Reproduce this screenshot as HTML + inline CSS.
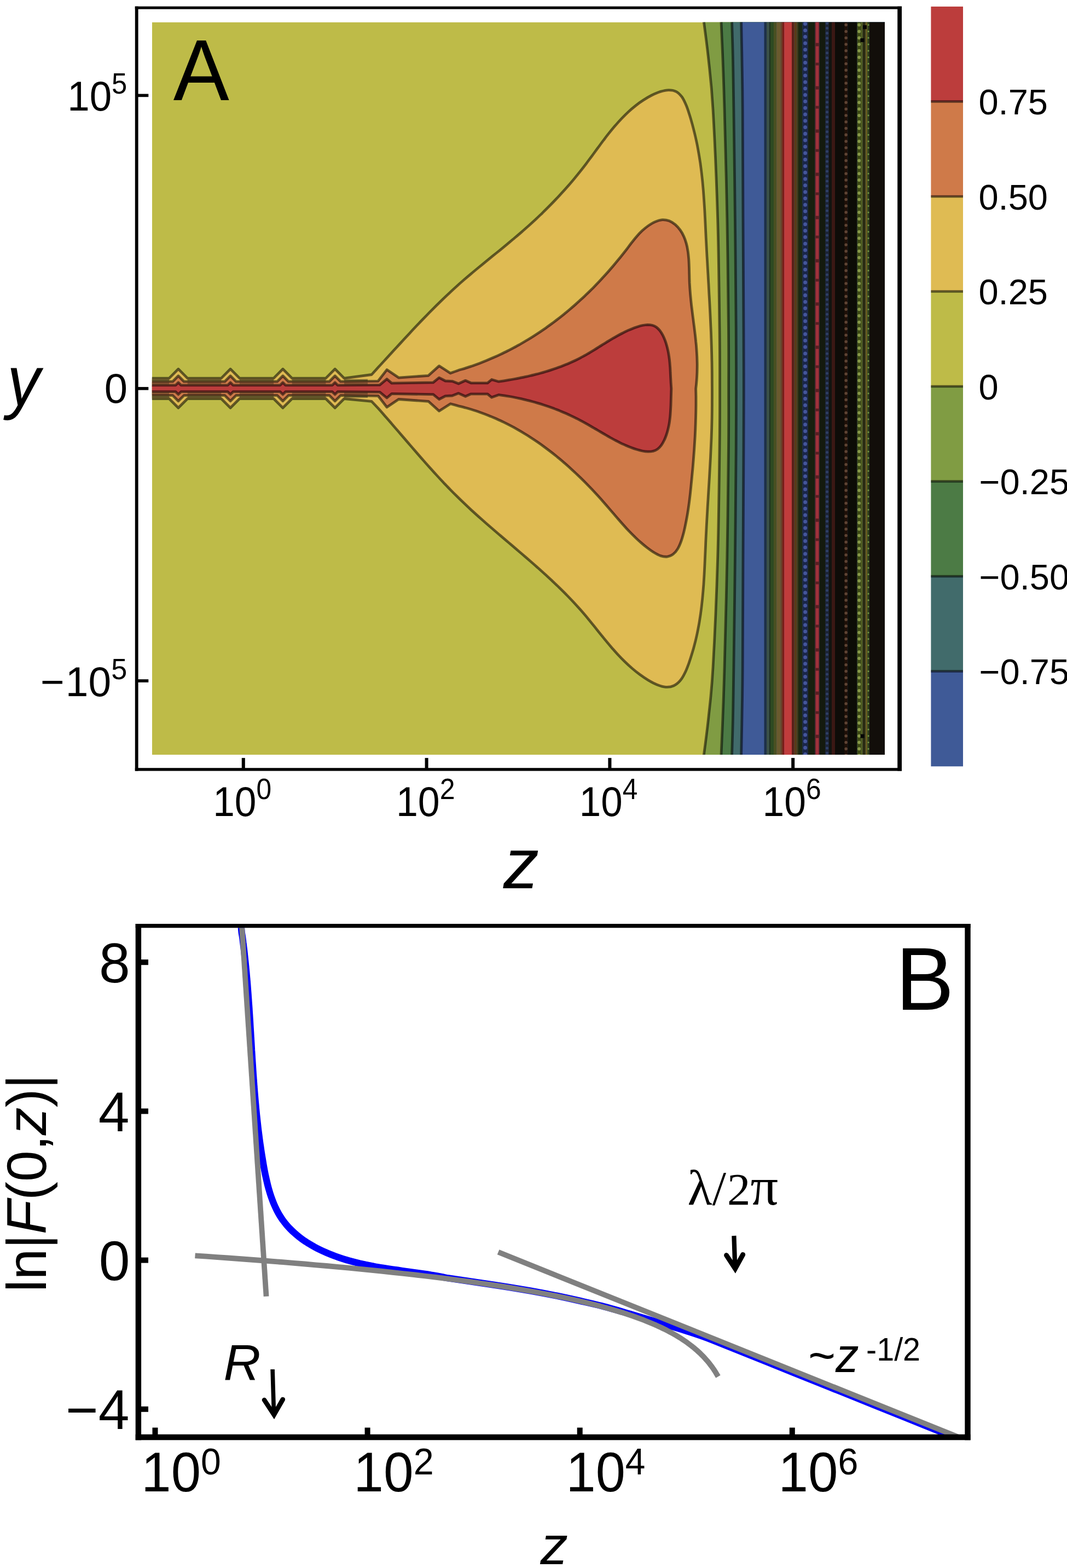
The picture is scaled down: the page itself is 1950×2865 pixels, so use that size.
<!DOCTYPE html><html><head><meta charset="utf-8"><style>html,body{margin:0;padding:0;background:#fff;}svg{display:block;} .s{font-family:'Liberation Sans', Arial, sans-serif;fill:#000;}</style></head><body>
<svg xmlns="http://www.w3.org/2000/svg" width="1950" height="2865" viewBox="0 0 1950 2865">
<rect width="1950" height="2865" fill="#fff"/>
<clipPath id="clipA"><rect x="277.8" y="40.6" width="1339.2" height="1338.4"/></clipPath>
<g clip-path="url(#clipA)">
<rect x="277.8" y="40.6" width="1339.2" height="1338.4" fill="#BEBB48"/>
<path d="M1285.0,34.6 C1285.2,35.6 1284.7,28.1 1286.4,40.6 C1288.1,53.1 1292.2,83.3 1295.0,109.8 C1297.8,136.3 1300.2,151.5 1303.0,199.8 C1305.8,248.1 1309.6,333.1 1311.6,399.8 C1313.6,466.5 1314.3,548.1 1315.0,599.8 C1315.7,651.5 1315.5,673.1 1315.5,709.8 C1315.5,746.5 1315.7,768.1 1315.0,819.8 C1314.3,871.5 1313.6,953.1 1311.6,1019.8 C1309.6,1086.5 1305.8,1171.5 1303.0,1219.8 C1300.2,1268.1 1297.8,1283.3 1295.0,1309.8 C1292.2,1336.3 1288.1,1366.5 1286.4,1379.0 C1284.7,1391.5 1285.2,1384.0 1285.0,1385.0 L1622.0,1385.0 L1622.0,34.6 Z" fill="#809C43"/>
<path d="M1317.5,34.6 C1317.6,35.6 1317.4,28.1 1318.0,40.6 C1318.6,53.1 1320.0,83.3 1321.0,109.8 C1322.0,136.3 1322.7,151.5 1324.0,199.8 C1325.3,248.1 1327.6,333.1 1328.8,399.8 C1330.0,466.5 1330.9,548.1 1331.4,599.8 C1331.9,651.5 1331.6,673.1 1331.6,709.8 C1331.6,746.5 1331.9,768.1 1331.4,819.8 C1330.9,871.5 1330.0,953.1 1328.8,1019.8 C1327.6,1086.5 1325.3,1171.5 1324.0,1219.8 C1322.7,1268.1 1322.0,1283.3 1321.0,1309.8 C1320.0,1336.3 1318.6,1366.5 1318.0,1379.0 C1317.4,1391.5 1317.6,1384.0 1317.5,1385.0 L1622.0,1385.0 L1622.0,34.6 Z" fill="#4C7B45"/>
<path d="M1337.4,34.6 C1337.4,35.6 1337.2,28.1 1337.6,40.6 C1337.9,53.1 1339.0,83.3 1339.5,109.8 C1340.0,136.3 1340.2,151.5 1340.9,199.8 C1341.6,248.1 1342.7,333.1 1343.4,399.8 C1344.1,466.5 1344.9,548.1 1345.2,599.8 C1345.5,651.5 1345.5,673.1 1345.5,709.8 C1345.5,746.5 1345.5,768.1 1345.2,819.8 C1344.9,871.5 1344.1,953.1 1343.4,1019.8 C1342.7,1086.5 1341.6,1171.5 1340.9,1219.8 C1340.2,1268.1 1340.0,1283.3 1339.5,1309.8 C1339.0,1336.3 1337.9,1366.5 1337.6,1379.0 C1337.2,1391.5 1337.4,1384.0 1337.4,1385.0 L1622.0,1385.0 L1622.0,34.6 Z" fill="#416B6B"/>
<path d="M1354.6,34.6 C1354.6,35.6 1354.5,28.1 1354.7,40.6 C1354.9,53.1 1355.6,83.3 1356.0,109.8 C1356.4,136.3 1356.9,151.5 1357.2,199.8 C1357.5,248.1 1357.7,333.1 1358.0,399.8 C1358.3,466.5 1358.8,548.1 1359.0,599.8 C1359.2,651.5 1359.3,673.1 1359.3,709.8 C1359.3,746.5 1359.2,768.1 1359.0,819.8 C1358.8,871.5 1358.3,953.1 1358.0,1019.8 C1357.7,1086.5 1357.5,1171.5 1357.2,1219.8 C1356.9,1268.1 1356.4,1283.3 1356.0,1309.8 C1355.6,1336.3 1354.9,1366.5 1354.7,1379.0 C1354.5,1391.5 1354.6,1384.0 1354.6,1385.0 L1622.0,1385.0 L1622.0,34.6 Z" fill="#3F5A97"/>
<rect x="1396.5" y="38.6" width="4.5" height="1342.4" fill="#1D3049"/>
<rect x="1401.0" y="38.6" width="5.0" height="1342.4" fill="#3A5048"/>
<rect x="1406.0" y="38.6" width="2.0" height="1342.4" fill="#1E3020"/>
<rect x="1408.0" y="38.6" width="6.0" height="1342.4" fill="#2E4A22"/>
<rect x="1414.0" y="38.6" width="5.2" height="1342.4" fill="#4A5022"/>
<rect x="1419.2" y="38.6" width="7.6" height="1342.4" fill="#6A5A2E"/>
<rect x="1426.8" y="38.6" width="3.2" height="1342.4" fill="#6A4028"/>
<rect x="1430.0" y="38.6" width="3.2" height="1342.4" fill="#7A1C18"/>
<rect x="1433.2" y="38.6" width="13.8" height="1342.4" fill="#C03C3C"/>
<rect x="1447.0" y="38.6" width="4.4" height="1342.4" fill="#5A2018"/>
<rect x="1451.4" y="38.6" width="5.1" height="1342.4" fill="#5A3A18"/>
<rect x="1456.5" y="38.6" width="2.5" height="1342.4" fill="#3A3A14"/>
<rect x="1459.0" y="38.6" width="7.6" height="1342.4" fill="#1C2814"/>
<rect x="1466.6" y="38.6" width="10.1" height="1342.4" fill="#1A2648"/>
<rect x="1476.7" y="38.6" width="12.8" height="1342.4" fill="#18200F"/>
<rect x="1489.5" y="38.6" width="8.1" height="1342.4" fill="#5A1E22"/>
<rect x="1497.6" y="38.6" width="10.4" height="1342.4" fill="#141A0E"/>
<rect x="1508.0" y="38.6" width="7.0" height="1342.4" fill="#1C2436"/>
<rect x="1515.0" y="38.6" width="5.0" height="1342.4" fill="#121410"/>
<rect x="1520.0" y="38.6" width="6.0" height="1342.4" fill="#3A1814"/>
<rect x="1526.0" y="38.6" width="17.0" height="1342.4" fill="#0E0C08"/>
<rect x="1543.0" y="38.6" width="6.2" height="1342.4" fill="#1E1008"/>
<rect x="1549.2" y="38.6" width="17.3" height="1342.4" fill="#0C0C06"/>
<rect x="1566.5" y="38.6" width="7.3" height="1342.4" fill="#3C4A14"/>
<rect x="1573.8" y="38.6" width="2.8" height="1342.4" fill="#55621E"/>
<rect x="1576.6" y="38.6" width="5.1" height="1342.4" fill="#2A2A10"/>
<rect x="1581.7" y="38.6" width="3.7" height="1342.4" fill="#665C1E"/>
<rect x="1585.4" y="38.6" width="3.4" height="1342.4" fill="#2E3E12"/>
<rect x="1588.8" y="38.6" width="30.2" height="1342.4" fill="#120E0A"/>
<line x1="1471.6" y1="43.6" x2="1471.6" y2="1386.0" stroke="#44559A" stroke-width="7.0" stroke-linecap="round" stroke-dasharray="0.01 11.8"/>
<line x1="1493.5" y1="40.6" x2="1493.5" y2="1379.0" stroke="#A0323C" stroke-width="5.5" stroke-dasharray="38 6 30 5"/>
<line x1="1511.5" y1="42.6" x2="1511.5" y2="1384.0" stroke="#2E3E66" stroke-width="5.0" stroke-linecap="round" stroke-dasharray="0.01 9.0"/>
<line x1="1546.1" y1="45.6" x2="1546.1" y2="1384.5" stroke="#5E4434" stroke-width="5.5" stroke-linecap="round" stroke-dasharray="0.01 11.8"/>
<line x1="1570.1" y1="45.6" x2="1570.1" y2="1385.0" stroke="#869848" stroke-width="6.0" stroke-linecap="round" stroke-dasharray="0.01 11.8"/>
<line x1="1587.1" y1="45.6" x2="1587.1" y2="1382.2" stroke="#6E903E" stroke-width="3.2" stroke-linecap="round" stroke-dasharray="0.01 11.8"/>
<rect x="1577.0" y="46.1" width="7" height="7" fill="#050505"/>
<rect x="1572.4" y="69.9" width="7" height="7" fill="#050505"/>
<rect x="1572.5" y="1341.5" width="7" height="7" fill="#050505"/>
<path d="M271.8,691.1 L309.1,691.1 L325.9,674.3 L342.7,691.1 L404.3,691.1 L421.1,674.3 L437.9,691.1 L500.1,691.1 L516.9,674.3 L533.7,691.1 L595.4,691.1 L612.2,674.3 L629.0,691.1 L679.2,684.5 C681.1,682.4 686.9,676.0 690.8,671.7 C694.7,667.5 698.6,663.3 702.5,659.0 C706.4,654.8 710.2,650.6 714.1,646.3 C718.0,642.1 721.9,637.8 725.8,633.6 C729.7,629.4 733.6,625.1 737.5,620.9 C741.4,616.7 745.3,612.5 749.2,608.3 C753.1,604.1 757.0,599.9 761.0,595.7 C764.9,591.6 768.9,587.4 772.9,583.3 C776.9,579.2 780.9,575.0 784.9,570.9 C788.9,566.9 792.9,562.8 797.0,558.7 C801.1,554.7 805.2,550.7 809.3,546.7 C813.4,542.7 817.6,538.8 821.8,534.9 C826.0,530.9 830.2,527.1 834.5,523.2 C838.7,519.4 843.0,515.6 847.4,511.8 C851.7,508.0 856.1,504.3 860.5,500.6 C864.9,496.9 869.3,493.2 873.8,489.5 C878.2,485.9 882.7,482.2 887.1,478.6 C891.6,474.9 896.1,471.3 900.5,467.7 C905.0,464.1 909.5,460.4 914.0,456.8 C918.4,453.2 922.9,449.5 927.3,445.9 C931.7,442.2 936.2,438.5 940.5,434.8 C944.9,431.1 949.3,427.4 953.6,423.6 C957.9,419.9 962.2,416.1 966.5,412.3 C970.7,408.4 974.9,404.6 979.1,400.7 C983.3,396.8 987.4,392.8 991.5,388.9 C995.6,384.9 999.7,380.9 1003.7,376.8 C1007.7,372.8 1011.7,368.7 1015.6,364.5 C1019.6,360.4 1023.5,356.2 1027.3,351.9 C1031.2,347.7 1035.0,343.4 1038.8,339.1 C1042.6,334.7 1046.3,330.4 1050.0,325.9 C1053.7,321.5 1057.3,317.0 1060.9,312.5 C1064.5,307.9 1068.1,303.3 1071.6,298.7 C1075.1,294.1 1078.5,289.3 1082.0,284.7 C1085.5,280.0 1088.9,275.2 1092.4,270.5 C1095.9,265.8 1099.3,261.1 1102.9,256.4 C1106.4,251.8 1109.9,247.1 1113.6,242.6 C1117.2,238.1 1120.9,233.5 1124.7,229.2 C1128.4,224.8 1132.3,220.5 1136.3,216.3 C1140.3,212.2 1144.4,208.1 1148.6,204.2 C1152.8,200.3 1157.2,196.6 1161.8,193.0 C1166.3,189.4 1171.0,186.0 1175.9,182.9 C1180.8,179.7 1186.0,176.6 1191.1,174.0 C1196.3,171.5 1201.8,169.0 1207.0,167.4 C1212.2,165.8 1217.5,164.6 1222.2,164.6 C1227.0,164.6 1231.7,165.3 1235.7,167.3 C1239.7,169.4 1243.1,172.9 1246.2,177.0 C1249.2,181.2 1251.7,186.8 1254.0,192.3 C1256.4,197.8 1258.3,204.1 1260.2,210.0 C1262.1,215.9 1263.8,221.9 1265.4,227.8 C1267.0,233.8 1268.5,239.7 1269.9,245.5 C1271.3,251.4 1272.6,257.2 1273.8,263.0 C1275.0,268.9 1276.0,274.6 1277.0,280.4 C1278.0,286.2 1278.9,291.9 1279.8,297.7 C1280.6,303.4 1281.3,309.1 1282.0,314.8 C1282.7,320.5 1283.3,326.2 1283.9,331.9 C1284.4,337.6 1284.9,343.3 1285.4,348.9 C1285.8,354.6 1286.2,360.3 1286.6,365.9 C1287.0,371.6 1287.3,377.2 1287.7,382.9 C1288.0,388.5 1288.3,394.2 1288.6,399.9 C1288.9,405.5 1289.1,411.2 1289.4,416.9 C1289.7,422.5 1289.9,428.2 1290.2,433.9 C1290.5,439.6 1290.8,445.3 1291.1,451.0 C1291.4,456.7 1291.7,462.5 1292.0,468.2 C1292.4,473.9 1292.7,479.7 1293.0,485.4 C1293.3,491.2 1293.7,496.9 1294.0,502.7 C1294.3,508.5 1294.6,514.2 1295.0,520.0 C1295.3,525.8 1295.6,531.5 1295.9,537.3 C1296.3,543.1 1296.6,548.9 1296.9,554.7 C1297.2,560.4 1297.5,566.2 1297.8,572.0 C1298.1,577.8 1298.3,583.6 1298.6,589.3 C1298.9,595.1 1299.1,600.9 1299.4,606.7 C1299.6,612.4 1299.8,618.2 1300.0,624.0 C1300.2,629.7 1300.4,635.5 1300.5,641.2 C1300.7,647.0 1300.8,652.7 1300.9,658.5 C1301.1,664.2 1301.1,669.9 1301.2,675.6 C1301.3,681.3 1301.3,687.0 1301.3,692.7 C1301.3,698.5 1301.4,707.0 1301.4,709.9 L1301.4,709.9 C1301.4,712.9 1301.4,721.9 1301.4,727.8 C1301.3,733.8 1301.4,739.8 1301.3,745.8 C1301.3,751.7 1301.2,757.7 1301.1,763.7 C1301.0,769.7 1300.8,775.7 1300.7,781.6 C1300.5,787.6 1300.3,793.6 1300.1,799.6 C1299.8,805.6 1299.6,811.6 1299.3,817.5 C1299.0,823.5 1298.8,829.5 1298.5,835.5 C1298.2,841.5 1297.8,847.4 1297.5,853.4 C1297.2,859.4 1296.8,865.4 1296.5,871.3 C1296.1,877.3 1295.8,883.3 1295.4,889.3 C1295.0,895.2 1294.7,901.2 1294.3,907.2 C1294.0,913.2 1293.6,919.1 1293.2,925.1 C1292.9,931.1 1292.5,937.0 1292.2,943.0 C1291.9,949.0 1291.5,954.9 1291.2,960.9 C1290.9,966.8 1290.6,972.8 1290.3,978.8 C1290.0,984.7 1289.7,990.7 1289.5,996.6 C1289.2,1002.6 1289.0,1008.5 1288.7,1014.5 C1288.4,1020.4 1288.2,1026.4 1287.9,1032.3 C1287.6,1038.3 1287.3,1044.2 1287.0,1050.2 C1286.6,1056.1 1286.3,1062.1 1285.9,1068.0 C1285.4,1074.0 1285.0,1079.9 1284.4,1085.9 C1283.9,1091.8 1283.3,1097.8 1282.6,1103.7 C1282.0,1109.7 1281.2,1115.6 1280.4,1121.6 C1279.5,1127.6 1278.6,1133.5 1277.6,1139.5 C1276.5,1145.5 1275.4,1151.4 1274.1,1157.4 C1272.8,1163.4 1271.5,1169.4 1269.9,1175.4 C1268.4,1181.3 1266.8,1187.3 1264.9,1193.3 C1263.1,1199.3 1261.2,1205.4 1259.1,1211.4 C1256.9,1217.3 1254.7,1223.5 1252.0,1228.9 C1249.4,1234.3 1246.5,1239.7 1243.0,1243.7 C1239.5,1247.8 1235.5,1251.1 1231.1,1253.0 C1226.7,1255.0 1221.7,1255.7 1216.6,1255.3 C1211.5,1255.0 1205.9,1253.1 1200.6,1251.0 C1195.2,1248.9 1189.6,1245.7 1184.4,1242.6 C1179.1,1239.4 1174.0,1235.9 1169.1,1232.3 C1164.2,1228.7 1159.5,1224.9 1155.0,1221.0 C1150.4,1217.1 1146.0,1213.0 1141.7,1208.8 C1137.4,1204.6 1133.2,1200.3 1129.1,1195.9 C1125.0,1191.5 1121.1,1186.9 1117.1,1182.4 C1113.2,1177.8 1109.3,1173.1 1105.5,1168.5 C1101.7,1163.8 1097.9,1159.1 1094.1,1154.4 C1090.3,1149.7 1086.6,1145.0 1082.7,1140.3 C1078.9,1135.6 1075.1,1130.9 1071.3,1126.3 C1067.4,1121.7 1063.5,1117.1 1059.5,1112.7 C1055.5,1108.2 1051.5,1103.8 1047.4,1099.4 C1043.3,1095.0 1039.1,1090.7 1035.0,1086.5 C1030.8,1082.2 1026.5,1078.0 1022.2,1073.8 C1018.0,1069.6 1013.6,1065.5 1009.3,1061.4 C1004.9,1057.4 1000.6,1053.3 996.1,1049.3 C991.7,1045.3 987.3,1041.3 982.8,1037.3 C978.4,1033.4 973.9,1029.4 969.4,1025.5 C964.9,1021.6 960.3,1017.7 955.8,1013.8 C951.3,1009.9 946.7,1006.0 942.2,1002.1 C937.6,998.3 933.1,994.4 928.5,990.5 C924.0,986.7 919.4,982.8 914.9,978.9 C910.3,975.0 905.8,971.1 901.3,967.2 C896.7,963.3 892.2,959.4 887.7,955.5 C883.2,951.5 878.8,947.6 874.3,943.6 C869.9,939.6 865.4,935.6 861.0,931.6 C856.6,927.5 852.3,923.4 848.0,919.3 C843.6,915.2 839.3,911.0 835.1,906.8 C830.8,902.6 826.6,898.4 822.4,894.1 C818.3,889.8 814.1,885.5 810.0,881.1 C805.9,876.8 801.8,872.4 797.8,868.0 C793.7,863.5 789.7,859.1 785.7,854.6 C781.7,850.2 777.7,845.7 773.8,841.2 C769.8,836.7 765.8,832.2 761.9,827.6 C758.0,823.1 754.1,818.6 750.1,814.0 C746.2,809.5 742.3,805.0 738.4,800.4 C734.5,795.9 730.6,791.3 726.7,786.8 C722.8,782.3 718.9,777.8 715.0,773.2 C711.1,768.7 707.2,764.2 703.3,759.8 C699.4,755.3 695.5,750.8 691.5,746.4 C687.5,742.0 681.3,735.6 679.2,733.4 L629.0,728.5 L612.2,745.3 L595.4,728.5 L533.7,728.5 L516.9,745.3 L500.1,728.5 L437.9,728.5 L421.1,745.3 L404.3,728.5 L342.7,728.5 L325.9,745.3 L309.1,728.5 L271.8,728.5 Z" fill="#DFBB53"/>
<path d="M271.8,697.2 L315.5,697.2 L325.9,686.8 L336.3,697.2 L410.7,697.2 L421.1,686.8 L431.5,697.2 L506.5,697.2 L516.9,686.8 L527.3,697.2 L601.8,697.2 L612.2,686.8 L622.6,697.2 L691.0,696.3 L707.0,675.6 L728.5,690.1 L782.9,686.3 L802.5,668.6 L823.3,681.9 C825.4,681.1 831.7,678.6 836.1,677.2 C840.5,675.7 845.2,674.5 849.6,673.1 C854.1,671.7 858.5,670.2 863.0,668.7 C867.4,667.1 871.8,665.5 876.1,663.9 C880.5,662.2 884.8,660.5 889.1,658.8 C893.4,657.0 897.7,655.2 901.9,653.3 C906.2,651.5 910.4,649.6 914.5,647.6 C918.7,645.6 922.9,643.6 927.0,641.5 C931.1,639.4 935.2,637.3 939.3,635.1 C943.3,633.0 947.4,630.7 951.4,628.5 C955.4,626.2 959.4,623.8 963.3,621.5 C967.3,619.1 971.2,616.7 975.1,614.2 C978.9,611.7 982.8,609.2 986.6,606.7 C990.4,604.1 994.2,601.5 998.0,598.9 C1001.8,596.2 1005.5,593.5 1009.2,590.8 C1012.9,588.0 1016.6,585.3 1020.2,582.4 C1023.9,579.6 1027.5,576.7 1031.1,573.8 C1034.6,570.9 1038.2,568.0 1041.7,565.0 C1045.2,562.0 1048.7,559.0 1052.2,555.9 C1055.6,552.9 1059.1,549.8 1062.5,546.6 C1065.9,543.5 1069.2,540.3 1072.6,537.1 C1075.9,533.9 1079.2,530.6 1082.5,527.4 C1085.7,524.1 1089.0,520.8 1092.2,517.4 C1095.4,514.1 1098.6,510.7 1101.7,507.2 C1104.9,503.8 1108.0,500.4 1111.1,496.9 C1114.2,493.4 1117.2,489.9 1120.2,486.4 C1123.3,482.8 1126.3,479.2 1129.2,475.6 C1132.2,472.0 1135.1,468.4 1138.0,464.7 C1140.9,461.1 1143.7,457.4 1146.6,453.7 C1149.4,450.0 1152.2,446.2 1155.1,442.6 C1158.0,438.9 1160.9,435.2 1164.0,431.7 C1167.0,428.2 1170.2,424.8 1173.6,421.6 C1177.1,418.4 1180.7,415.3 1184.6,412.6 C1188.6,409.9 1192.9,407.2 1197.1,405.4 C1201.4,403.6 1206.0,402.1 1210.3,401.7 C1214.6,401.4 1218.9,402.1 1222.9,403.5 C1226.8,405.0 1230.7,407.6 1234.1,410.4 C1237.4,413.3 1240.6,416.9 1243.2,420.5 C1245.8,424.1 1248.0,428.1 1249.8,432.2 C1251.7,436.3 1253.1,440.6 1254.3,445.0 C1255.6,449.4 1256.4,454.0 1257.1,458.6 C1257.9,463.3 1258.3,468.1 1258.7,472.9 C1259.1,477.7 1259.2,482.6 1259.4,487.5 C1259.6,492.4 1259.6,497.3 1259.8,502.2 C1259.9,507.0 1260.0,511.9 1260.2,516.7 C1260.5,521.4 1260.7,526.1 1261.1,530.8 C1261.4,535.5 1261.8,540.1 1262.3,544.6 C1262.7,549.2 1263.2,553.7 1263.7,558.2 C1264.3,562.7 1264.8,567.2 1265.4,571.7 C1265.9,576.1 1266.5,580.5 1267.1,585.0 C1267.6,589.4 1268.2,593.8 1268.8,598.2 C1269.3,602.6 1269.9,607.0 1270.4,611.5 C1270.9,615.9 1271.4,620.3 1271.8,624.8 C1272.3,629.2 1272.7,633.7 1273.0,638.3 C1273.3,642.8 1273.6,647.3 1273.8,651.9 C1274.0,656.5 1274.1,661.2 1274.2,665.9 C1274.2,670.6 1274.1,675.3 1274.0,680.1 C1273.8,684.9 1273.6,689.8 1273.2,694.8 C1272.8,699.8 1272.0,707.4 1271.7,709.9 L1271.7,709.9 C1271.7,712.3 1271.9,719.5 1272.0,724.3 C1272.0,729.1 1272.0,733.9 1272.0,738.8 C1272.0,743.7 1271.9,748.5 1271.8,753.4 C1271.7,758.3 1271.6,763.2 1271.4,768.1 C1271.3,773.0 1271.1,777.9 1270.9,782.8 C1270.7,787.8 1270.4,792.7 1270.2,797.6 C1269.9,802.5 1269.6,807.4 1269.3,812.3 C1269.0,817.2 1268.7,822.1 1268.3,827.0 C1267.9,831.9 1267.6,836.8 1267.2,841.6 C1266.8,846.5 1266.4,851.3 1266.0,856.1 C1265.5,860.9 1265.1,865.7 1264.6,870.5 C1264.2,875.3 1263.7,880.0 1263.2,884.7 C1262.8,889.4 1262.3,894.1 1261.8,898.7 C1261.3,903.4 1260.8,908.0 1260.2,912.7 C1259.6,917.4 1259.0,922.1 1258.3,926.9 C1257.6,931.7 1256.9,936.5 1256.0,941.5 C1255.1,946.5 1254.2,951.5 1253.1,956.7 C1252.1,961.9 1250.9,967.4 1249.6,972.8 C1248.2,978.1 1246.7,983.8 1244.9,988.7 C1243.1,993.7 1241.1,998.7 1238.6,1002.7 C1236.2,1006.7 1233.3,1010.2 1230.1,1012.6 C1226.9,1015.0 1223.2,1016.6 1219.5,1017.1 C1215.7,1017.6 1211.5,1016.9 1207.4,1015.6 C1203.3,1014.3 1199.0,1011.8 1194.9,1009.3 C1190.7,1006.8 1186.6,1003.6 1182.6,1000.6 C1178.6,997.6 1174.8,994.4 1171.1,991.1 C1167.3,987.9 1163.7,984.6 1160.2,981.1 C1156.6,977.7 1153.2,974.2 1149.8,970.7 C1146.4,967.2 1143.1,963.6 1139.9,959.9 C1136.6,956.3 1133.4,952.6 1130.2,948.9 C1127.0,945.3 1123.8,941.5 1120.6,937.8 C1117.4,934.1 1114.3,930.4 1111.1,926.7 C1107.9,923.0 1104.7,919.3 1101.4,915.6 C1098.2,911.9 1094.9,908.3 1091.6,904.7 C1088.3,901.1 1085.0,897.5 1081.6,893.9 C1078.2,890.4 1074.8,886.9 1071.4,883.4 C1068.0,879.9 1064.5,876.4 1061.0,873.0 C1057.5,869.6 1054.0,866.2 1050.4,862.9 C1046.8,859.6 1043.2,856.3 1039.6,853.0 C1036.0,849.8 1032.3,846.5 1028.6,843.4 C1024.9,840.2 1021.1,837.1 1017.4,834.0 C1013.6,830.9 1009.8,827.9 1006.0,825.0 C1002.1,822.0 998.2,819.1 994.3,816.2 C990.4,813.3 986.5,810.5 982.5,807.8 C978.5,805.0 974.5,802.3 970.4,799.7 C966.4,797.0 962.3,794.5 958.1,792.0 C954.0,789.4 949.9,787.0 945.6,784.6 C941.4,782.2 937.2,779.9 932.9,777.7 C928.6,775.4 924.3,773.2 920.0,771.1 C915.6,769.0 911.2,767.0 906.8,765.0 C902.4,763.1 897.9,761.2 893.4,759.4 C888.9,757.6 884.3,755.8 879.7,754.2 C875.1,752.5 870.5,751.0 865.8,749.5 C861.2,748.0 856.4,746.6 851.7,745.3 C846.9,744.0 842.0,742.8 837.3,741.6 C832.6,740.3 825.6,738.3 823.3,737.7 L802.5,751.0 L782.9,733.3 L728.5,729.5 L707.0,744.0 L691.0,723.3 L622.6,722.4 L612.2,732.8 L601.8,722.4 L527.3,722.4 L516.9,732.8 L506.5,722.4 L431.5,722.4 L421.1,732.8 L410.7,722.4 L336.3,722.4 L325.9,732.8 L315.5,722.4 L271.8,722.4 Z" fill="#CF7A49"/>
<path d="M271.8,703.9 L321.0,703.9 L325.9,699.0 L330.8,703.9 L416.2,703.9 L421.1,699.0 L426.0,703.9 L512.0,703.9 L516.9,699.0 L521.8,703.9 L607.3,703.9 L612.2,699.0 L617.1,703.9 L694.0,703.3 L707.0,692.6 L715.9,700.2 L791.7,698.9 L802.5,690.1 L813.9,696.0 L826.5,696.6 L838.0,701.0 L850.6,695.3 L860.7,699.8 L891.0,699.8 L898.6,693.5 L911.3,697.2 C912.9,697.0 917.7,696.3 920.9,695.8 C924.2,695.3 927.4,694.8 930.6,694.2 C933.8,693.7 937.0,693.1 940.2,692.5 C943.4,691.9 946.6,691.3 949.8,690.7 C953.0,690.0 956.2,689.4 959.4,688.7 C962.6,688.0 965.8,687.3 969.0,686.5 C972.2,685.8 975.3,685.0 978.5,684.2 C981.7,683.4 984.8,682.6 988.0,681.7 C991.1,680.9 994.3,680.0 997.4,679.0 C1000.5,678.1 1003.6,677.1 1006.7,676.1 C1009.8,675.1 1012.9,674.1 1016.0,673.0 C1019.1,671.9 1022.1,670.8 1025.2,669.7 C1028.2,668.5 1031.2,667.3 1034.3,666.1 C1037.3,664.9 1040.2,663.6 1043.2,662.3 C1046.2,660.9 1049.1,659.6 1052.1,658.2 C1055.0,656.8 1057.9,655.3 1060.8,653.8 C1063.7,652.3 1066.5,650.7 1069.4,649.2 C1072.2,647.6 1075.0,645.9 1077.8,644.3 C1080.6,642.6 1083.4,640.9 1086.2,639.2 C1089.0,637.5 1091.8,635.7 1094.5,634.0 C1097.3,632.3 1100.1,630.5 1102.9,628.8 C1105.7,627.1 1108.4,625.3 1111.2,623.6 C1114.1,621.9 1116.9,620.2 1119.7,618.5 C1122.5,616.9 1125.4,615.2 1128.3,613.6 C1131.2,612.0 1134.1,610.5 1137.0,609.0 C1140.0,607.5 1142.9,606.0 1145.9,604.6 C1149.0,603.3 1152.0,601.9 1155.1,600.7 C1158.2,599.4 1161.4,598.2 1164.6,597.2 C1167.7,596.2 1170.9,595.2 1174.1,594.5 C1177.2,593.9 1180.3,593.4 1183.3,593.3 C1186.3,593.3 1189.2,593.5 1191.9,594.2 C1194.6,594.9 1197.2,596.1 1199.5,597.7 C1201.8,599.4 1204.0,601.6 1205.9,604.0 C1207.8,606.5 1209.6,609.4 1211.2,612.4 C1212.7,615.3 1214.1,618.6 1215.4,621.9 C1216.6,625.1 1217.7,628.5 1218.6,631.8 C1219.5,635.1 1220.3,638.4 1221.0,641.8 C1221.7,645.1 1222.2,648.3 1222.7,651.6 C1223.2,654.9 1223.6,658.2 1223.9,661.5 C1224.2,664.7 1224.4,668.0 1224.7,671.2 C1224.9,674.5 1225.1,677.7 1225.2,681.0 C1225.4,684.2 1225.5,687.4 1225.7,690.6 C1225.9,693.8 1226.0,697.0 1226.2,700.2 C1226.4,703.4 1226.8,708.3 1226.9,709.9 L1226.9,709.9 C1226.9,711.6 1226.7,716.6 1226.6,720.0 C1226.5,723.4 1226.4,726.7 1226.3,730.2 C1226.2,733.6 1226.1,737.1 1226.0,740.6 C1225.8,744.1 1225.7,747.7 1225.4,751.3 C1225.2,754.8 1225.0,758.4 1224.6,762.0 C1224.2,765.6 1223.8,769.2 1223.2,772.8 C1222.6,776.4 1221.9,780.0 1221.0,783.5 C1220.2,787.1 1219.2,790.6 1218.0,794.1 C1216.8,797.5 1215.5,801.1 1213.9,804.3 C1212.3,807.6 1210.5,810.9 1208.5,813.6 C1206.5,816.3 1204.2,818.8 1201.7,820.6 C1199.2,822.4 1196.3,823.6 1193.4,824.3 C1190.5,825.1 1187.3,825.3 1184.0,825.2 C1180.8,825.2 1177.4,824.7 1174.0,824.0 C1170.6,823.3 1167.1,822.3 1163.7,821.3 C1160.2,820.2 1156.8,819.0 1153.5,817.7 C1150.1,816.5 1146.8,815.1 1143.6,813.7 C1140.3,812.3 1137.1,810.8 1133.9,809.3 C1130.8,807.7 1127.6,806.1 1124.5,804.5 C1121.4,802.8 1118.3,801.2 1115.2,799.5 C1112.2,797.7 1109.1,796.0 1106.1,794.2 C1103.1,792.5 1100.0,790.7 1097.0,788.9 C1094.0,787.1 1091.0,785.4 1088.0,783.6 C1085.0,781.8 1082.0,780.0 1079.0,778.3 C1075.9,776.5 1072.9,774.8 1069.8,773.1 C1066.8,771.4 1063.7,769.7 1060.6,768.1 C1057.6,766.4 1054.4,764.9 1051.3,763.3 C1048.2,761.8 1045.0,760.3 1041.9,758.8 C1038.7,757.3 1035.5,755.9 1032.3,754.5 C1029.1,753.1 1025.9,751.8 1022.6,750.4 C1019.4,749.1 1016.1,747.9 1012.9,746.6 C1009.6,745.4 1006.3,744.2 1003.0,743.0 C999.7,741.9 996.4,740.8 993.1,739.7 C989.7,738.6 986.4,737.6 983.0,736.6 C979.7,735.6 976.3,734.6 973.0,733.7 C969.6,732.8 966.2,731.9 962.8,731.1 C959.4,730.2 956.0,729.4 952.6,728.6 C949.2,727.9 945.8,727.2 942.3,726.5 C938.9,725.8 935.5,725.1 932.0,724.5 C928.6,723.9 925.1,723.3 921.7,722.8 C918.2,722.3 913.0,721.6 911.3,721.4 L898.6,726.1 L891.0,719.8 L860.7,719.8 L850.6,724.3 L838.0,718.6 L826.5,723.0 L813.9,723.6 L802.5,729.5 L791.7,720.7 L715.9,719.4 L707.0,727.0 L694.0,716.3 L617.1,715.7 L612.2,720.6 L607.3,715.7 L521.8,715.7 L516.9,720.6 L512.0,715.7 L426.0,715.7 L421.1,720.6 L416.2,715.7 L330.8,715.7 L325.9,720.6 L321.0,715.7 L271.8,715.7 Z" fill="#BC3D3C"/>
<rect x="275.8" y="692.6" width="33.3" height="3.8" fill="#8E7C3C"/>
<rect x="275.8" y="723.2" width="33.3" height="3.8" fill="#8E7C3C"/>
<rect x="275.8" y="698.8" width="33.3" height="3.6" fill="#935A36"/>
<rect x="275.8" y="717.2" width="33.3" height="3.6" fill="#935A36"/>
<rect x="342.7" y="692.6" width="61.6" height="3.8" fill="#8E7C3C"/>
<rect x="342.7" y="723.2" width="61.6" height="3.8" fill="#8E7C3C"/>
<rect x="342.7" y="698.8" width="61.6" height="3.6" fill="#935A36"/>
<rect x="342.7" y="717.2" width="61.6" height="3.6" fill="#935A36"/>
<rect x="437.9" y="692.6" width="62.2" height="3.8" fill="#8E7C3C"/>
<rect x="437.9" y="723.2" width="62.2" height="3.8" fill="#8E7C3C"/>
<rect x="437.9" y="698.8" width="62.2" height="3.6" fill="#935A36"/>
<rect x="437.9" y="717.2" width="62.2" height="3.6" fill="#935A36"/>
<rect x="533.7" y="692.6" width="61.7" height="3.8" fill="#8E7C3C"/>
<rect x="533.7" y="723.2" width="61.7" height="3.8" fill="#8E7C3C"/>
<rect x="533.7" y="698.8" width="61.7" height="3.6" fill="#935A36"/>
<rect x="533.7" y="717.2" width="61.7" height="3.6" fill="#935A36"/>
<rect x="629.0" y="692.6" width="43.0" height="3.8" fill="#8E7C3C"/>
<rect x="629.0" y="723.2" width="43.0" height="3.8" fill="#8E7C3C"/>
<rect x="629.0" y="698.8" width="43.0" height="3.6" fill="#935A36"/>
<rect x="629.0" y="717.2" width="43.0" height="3.6" fill="#935A36"/>
<g fill="none" stroke="#000" stroke-opacity="0.55" stroke-width="4.8" stroke-linejoin="round">
<path d="M1285.0,34.6 C1285.2,35.6 1284.7,28.1 1286.4,40.6 C1288.1,53.1 1292.2,83.3 1295.0,109.8 C1297.8,136.3 1300.2,151.5 1303.0,199.8 C1305.8,248.1 1309.6,333.1 1311.6,399.8 C1313.6,466.5 1314.3,548.1 1315.0,599.8 C1315.7,651.5 1315.5,673.1 1315.5,709.8 C1315.5,746.5 1315.7,768.1 1315.0,819.8 C1314.3,871.5 1313.6,953.1 1311.6,1019.8 C1309.6,1086.5 1305.8,1171.5 1303.0,1219.8 C1300.2,1268.1 1297.8,1283.3 1295.0,1309.8 C1292.2,1336.3 1288.1,1366.5 1286.4,1379.0 C1284.7,1391.5 1285.2,1384.0 1285.0,1385.0"/>
<path d="M1317.5,34.6 C1317.6,35.6 1317.4,28.1 1318.0,40.6 C1318.6,53.1 1320.0,83.3 1321.0,109.8 C1322.0,136.3 1322.7,151.5 1324.0,199.8 C1325.3,248.1 1327.6,333.1 1328.8,399.8 C1330.0,466.5 1330.9,548.1 1331.4,599.8 C1331.9,651.5 1331.6,673.1 1331.6,709.8 C1331.6,746.5 1331.9,768.1 1331.4,819.8 C1330.9,871.5 1330.0,953.1 1328.8,1019.8 C1327.6,1086.5 1325.3,1171.5 1324.0,1219.8 C1322.7,1268.1 1322.0,1283.3 1321.0,1309.8 C1320.0,1336.3 1318.6,1366.5 1318.0,1379.0 C1317.4,1391.5 1317.6,1384.0 1317.5,1385.0"/>
<path d="M1337.4,34.6 C1337.4,35.6 1337.2,28.1 1337.6,40.6 C1337.9,53.1 1339.0,83.3 1339.5,109.8 C1340.0,136.3 1340.2,151.5 1340.9,199.8 C1341.6,248.1 1342.7,333.1 1343.4,399.8 C1344.1,466.5 1344.9,548.1 1345.2,599.8 C1345.5,651.5 1345.5,673.1 1345.5,709.8 C1345.5,746.5 1345.5,768.1 1345.2,819.8 C1344.9,871.5 1344.1,953.1 1343.4,1019.8 C1342.7,1086.5 1341.6,1171.5 1340.9,1219.8 C1340.2,1268.1 1340.0,1283.3 1339.5,1309.8 C1339.0,1336.3 1337.9,1366.5 1337.6,1379.0 C1337.2,1391.5 1337.4,1384.0 1337.4,1385.0"/>
<path d="M1354.6,34.6 C1354.6,35.6 1354.5,28.1 1354.7,40.6 C1354.9,53.1 1355.6,83.3 1356.0,109.8 C1356.4,136.3 1356.9,151.5 1357.2,199.8 C1357.5,248.1 1357.7,333.1 1358.0,399.8 C1358.3,466.5 1358.8,548.1 1359.0,599.8 C1359.2,651.5 1359.3,673.1 1359.3,709.8 C1359.3,746.5 1359.2,768.1 1359.0,819.8 C1358.8,871.5 1358.3,953.1 1358.0,1019.8 C1357.7,1086.5 1357.5,1171.5 1357.2,1219.8 C1356.9,1268.1 1356.4,1283.3 1356.0,1309.8 C1355.6,1336.3 1354.9,1366.5 1354.7,1379.0 C1354.5,1391.5 1354.6,1384.0 1354.6,1385.0"/>
<path d="M271.8,691.1 L309.1,691.1 L325.9,674.3 L342.7,691.1 L404.3,691.1 L421.1,674.3 L437.9,691.1 L500.1,691.1 L516.9,674.3 L533.7,691.1 L595.4,691.1 L612.2,674.3 L629.0,691.1 L679.2,684.5 C681.1,682.4 686.9,676.0 690.8,671.7 C694.7,667.5 698.6,663.3 702.5,659.0 C706.4,654.8 710.2,650.6 714.1,646.3 C718.0,642.1 721.9,637.8 725.8,633.6 C729.7,629.4 733.6,625.1 737.5,620.9 C741.4,616.7 745.3,612.5 749.2,608.3 C753.1,604.1 757.0,599.9 761.0,595.7 C764.9,591.6 768.9,587.4 772.9,583.3 C776.9,579.2 780.9,575.0 784.9,570.9 C788.9,566.9 792.9,562.8 797.0,558.7 C801.1,554.7 805.2,550.7 809.3,546.7 C813.4,542.7 817.6,538.8 821.8,534.9 C826.0,530.9 830.2,527.1 834.5,523.2 C838.7,519.4 843.0,515.6 847.4,511.8 C851.7,508.0 856.1,504.3 860.5,500.6 C864.9,496.9 869.3,493.2 873.8,489.5 C878.2,485.9 882.7,482.2 887.1,478.6 C891.6,474.9 896.1,471.3 900.5,467.7 C905.0,464.1 909.5,460.4 914.0,456.8 C918.4,453.2 922.9,449.5 927.3,445.9 C931.7,442.2 936.2,438.5 940.5,434.8 C944.9,431.1 949.3,427.4 953.6,423.6 C957.9,419.9 962.2,416.1 966.5,412.3 C970.7,408.4 974.9,404.6 979.1,400.7 C983.3,396.8 987.4,392.8 991.5,388.9 C995.6,384.9 999.7,380.9 1003.7,376.8 C1007.7,372.8 1011.7,368.7 1015.6,364.5 C1019.6,360.4 1023.5,356.2 1027.3,351.9 C1031.2,347.7 1035.0,343.4 1038.8,339.1 C1042.6,334.7 1046.3,330.4 1050.0,325.9 C1053.7,321.5 1057.3,317.0 1060.9,312.5 C1064.5,307.9 1068.1,303.3 1071.6,298.7 C1075.1,294.1 1078.5,289.3 1082.0,284.7 C1085.5,280.0 1088.9,275.2 1092.4,270.5 C1095.9,265.8 1099.3,261.1 1102.9,256.4 C1106.4,251.8 1109.9,247.1 1113.6,242.6 C1117.2,238.1 1120.9,233.5 1124.7,229.2 C1128.4,224.8 1132.3,220.5 1136.3,216.3 C1140.3,212.2 1144.4,208.1 1148.6,204.2 C1152.8,200.3 1157.2,196.6 1161.8,193.0 C1166.3,189.4 1171.0,186.0 1175.9,182.9 C1180.8,179.7 1186.0,176.6 1191.1,174.0 C1196.3,171.5 1201.8,169.0 1207.0,167.4 C1212.2,165.8 1217.5,164.6 1222.2,164.6 C1227.0,164.6 1231.7,165.3 1235.7,167.3 C1239.7,169.4 1243.1,172.9 1246.2,177.0 C1249.2,181.2 1251.7,186.8 1254.0,192.3 C1256.4,197.8 1258.3,204.1 1260.2,210.0 C1262.1,215.9 1263.8,221.9 1265.4,227.8 C1267.0,233.8 1268.5,239.7 1269.9,245.5 C1271.3,251.4 1272.6,257.2 1273.8,263.0 C1275.0,268.9 1276.0,274.6 1277.0,280.4 C1278.0,286.2 1278.9,291.9 1279.8,297.7 C1280.6,303.4 1281.3,309.1 1282.0,314.8 C1282.7,320.5 1283.3,326.2 1283.9,331.9 C1284.4,337.6 1284.9,343.3 1285.4,348.9 C1285.8,354.6 1286.2,360.3 1286.6,365.9 C1287.0,371.6 1287.3,377.2 1287.7,382.9 C1288.0,388.5 1288.3,394.2 1288.6,399.9 C1288.9,405.5 1289.1,411.2 1289.4,416.9 C1289.7,422.5 1289.9,428.2 1290.2,433.9 C1290.5,439.6 1290.8,445.3 1291.1,451.0 C1291.4,456.7 1291.7,462.5 1292.0,468.2 C1292.4,473.9 1292.7,479.7 1293.0,485.4 C1293.3,491.2 1293.7,496.9 1294.0,502.7 C1294.3,508.5 1294.6,514.2 1295.0,520.0 C1295.3,525.8 1295.6,531.5 1295.9,537.3 C1296.3,543.1 1296.6,548.9 1296.9,554.7 C1297.2,560.4 1297.5,566.2 1297.8,572.0 C1298.1,577.8 1298.3,583.6 1298.6,589.3 C1298.9,595.1 1299.1,600.9 1299.4,606.7 C1299.6,612.4 1299.8,618.2 1300.0,624.0 C1300.2,629.7 1300.4,635.5 1300.5,641.2 C1300.7,647.0 1300.8,652.7 1300.9,658.5 C1301.1,664.2 1301.1,669.9 1301.2,675.6 C1301.3,681.3 1301.3,687.0 1301.3,692.7 C1301.3,698.5 1301.4,707.0 1301.4,709.9 L1301.4,709.9 C1301.4,712.9 1301.4,721.9 1301.4,727.8 C1301.3,733.8 1301.4,739.8 1301.3,745.8 C1301.3,751.7 1301.2,757.7 1301.1,763.7 C1301.0,769.7 1300.8,775.7 1300.7,781.6 C1300.5,787.6 1300.3,793.6 1300.1,799.6 C1299.8,805.6 1299.6,811.6 1299.3,817.5 C1299.0,823.5 1298.8,829.5 1298.5,835.5 C1298.2,841.5 1297.8,847.4 1297.5,853.4 C1297.2,859.4 1296.8,865.4 1296.5,871.3 C1296.1,877.3 1295.8,883.3 1295.4,889.3 C1295.0,895.2 1294.7,901.2 1294.3,907.2 C1294.0,913.2 1293.6,919.1 1293.2,925.1 C1292.9,931.1 1292.5,937.0 1292.2,943.0 C1291.9,949.0 1291.5,954.9 1291.2,960.9 C1290.9,966.8 1290.6,972.8 1290.3,978.8 C1290.0,984.7 1289.7,990.7 1289.5,996.6 C1289.2,1002.6 1289.0,1008.5 1288.7,1014.5 C1288.4,1020.4 1288.2,1026.4 1287.9,1032.3 C1287.6,1038.3 1287.3,1044.2 1287.0,1050.2 C1286.6,1056.1 1286.3,1062.1 1285.9,1068.0 C1285.4,1074.0 1285.0,1079.9 1284.4,1085.9 C1283.9,1091.8 1283.3,1097.8 1282.6,1103.7 C1282.0,1109.7 1281.2,1115.6 1280.4,1121.6 C1279.5,1127.6 1278.6,1133.5 1277.6,1139.5 C1276.5,1145.5 1275.4,1151.4 1274.1,1157.4 C1272.8,1163.4 1271.5,1169.4 1269.9,1175.4 C1268.4,1181.3 1266.8,1187.3 1264.9,1193.3 C1263.1,1199.3 1261.2,1205.4 1259.1,1211.4 C1256.9,1217.3 1254.7,1223.5 1252.0,1228.9 C1249.4,1234.3 1246.5,1239.7 1243.0,1243.7 C1239.5,1247.8 1235.5,1251.1 1231.1,1253.0 C1226.7,1255.0 1221.7,1255.7 1216.6,1255.3 C1211.5,1255.0 1205.9,1253.1 1200.6,1251.0 C1195.2,1248.9 1189.6,1245.7 1184.4,1242.6 C1179.1,1239.4 1174.0,1235.9 1169.1,1232.3 C1164.2,1228.7 1159.5,1224.9 1155.0,1221.0 C1150.4,1217.1 1146.0,1213.0 1141.7,1208.8 C1137.4,1204.6 1133.2,1200.3 1129.1,1195.9 C1125.0,1191.5 1121.1,1186.9 1117.1,1182.4 C1113.2,1177.8 1109.3,1173.1 1105.5,1168.5 C1101.7,1163.8 1097.9,1159.1 1094.1,1154.4 C1090.3,1149.7 1086.6,1145.0 1082.7,1140.3 C1078.9,1135.6 1075.1,1130.9 1071.3,1126.3 C1067.4,1121.7 1063.5,1117.1 1059.5,1112.7 C1055.5,1108.2 1051.5,1103.8 1047.4,1099.4 C1043.3,1095.0 1039.1,1090.7 1035.0,1086.5 C1030.8,1082.2 1026.5,1078.0 1022.2,1073.8 C1018.0,1069.6 1013.6,1065.5 1009.3,1061.4 C1004.9,1057.4 1000.6,1053.3 996.1,1049.3 C991.7,1045.3 987.3,1041.3 982.8,1037.3 C978.4,1033.4 973.9,1029.4 969.4,1025.5 C964.9,1021.6 960.3,1017.7 955.8,1013.8 C951.3,1009.9 946.7,1006.0 942.2,1002.1 C937.6,998.3 933.1,994.4 928.5,990.5 C924.0,986.7 919.4,982.8 914.9,978.9 C910.3,975.0 905.8,971.1 901.3,967.2 C896.7,963.3 892.2,959.4 887.7,955.5 C883.2,951.5 878.8,947.6 874.3,943.6 C869.9,939.6 865.4,935.6 861.0,931.6 C856.6,927.5 852.3,923.4 848.0,919.3 C843.6,915.2 839.3,911.0 835.1,906.8 C830.8,902.6 826.6,898.4 822.4,894.1 C818.3,889.8 814.1,885.5 810.0,881.1 C805.9,876.8 801.8,872.4 797.8,868.0 C793.7,863.5 789.7,859.1 785.7,854.6 C781.7,850.2 777.7,845.7 773.8,841.2 C769.8,836.7 765.8,832.2 761.9,827.6 C758.0,823.1 754.1,818.6 750.1,814.0 C746.2,809.5 742.3,805.0 738.4,800.4 C734.5,795.9 730.6,791.3 726.7,786.8 C722.8,782.3 718.9,777.8 715.0,773.2 C711.1,768.7 707.2,764.2 703.3,759.8 C699.4,755.3 695.5,750.8 691.5,746.4 C687.5,742.0 681.3,735.6 679.2,733.4 L629.0,728.5 L612.2,745.3 L595.4,728.5 L533.7,728.5 L516.9,745.3 L500.1,728.5 L437.9,728.5 L421.1,745.3 L404.3,728.5 L342.7,728.5 L325.9,745.3 L309.1,728.5 L271.8,728.5 Z"/>
<path d="M271.8,697.2 L315.5,697.2 L325.9,686.8 L336.3,697.2 L410.7,697.2 L421.1,686.8 L431.5,697.2 L506.5,697.2 L516.9,686.8 L527.3,697.2 L601.8,697.2 L612.2,686.8 L622.6,697.2 L691.0,696.3 L707.0,675.6 L728.5,690.1 L782.9,686.3 L802.5,668.6 L823.3,681.9 C825.4,681.1 831.7,678.6 836.1,677.2 C840.5,675.7 845.2,674.5 849.6,673.1 C854.1,671.7 858.5,670.2 863.0,668.7 C867.4,667.1 871.8,665.5 876.1,663.9 C880.5,662.2 884.8,660.5 889.1,658.8 C893.4,657.0 897.7,655.2 901.9,653.3 C906.2,651.5 910.4,649.6 914.5,647.6 C918.7,645.6 922.9,643.6 927.0,641.5 C931.1,639.4 935.2,637.3 939.3,635.1 C943.3,633.0 947.4,630.7 951.4,628.5 C955.4,626.2 959.4,623.8 963.3,621.5 C967.3,619.1 971.2,616.7 975.1,614.2 C978.9,611.7 982.8,609.2 986.6,606.7 C990.4,604.1 994.2,601.5 998.0,598.9 C1001.8,596.2 1005.5,593.5 1009.2,590.8 C1012.9,588.0 1016.6,585.3 1020.2,582.4 C1023.9,579.6 1027.5,576.7 1031.1,573.8 C1034.6,570.9 1038.2,568.0 1041.7,565.0 C1045.2,562.0 1048.7,559.0 1052.2,555.9 C1055.6,552.9 1059.1,549.8 1062.5,546.6 C1065.9,543.5 1069.2,540.3 1072.6,537.1 C1075.9,533.9 1079.2,530.6 1082.5,527.4 C1085.7,524.1 1089.0,520.8 1092.2,517.4 C1095.4,514.1 1098.6,510.7 1101.7,507.2 C1104.9,503.8 1108.0,500.4 1111.1,496.9 C1114.2,493.4 1117.2,489.9 1120.2,486.4 C1123.3,482.8 1126.3,479.2 1129.2,475.6 C1132.2,472.0 1135.1,468.4 1138.0,464.7 C1140.9,461.1 1143.7,457.4 1146.6,453.7 C1149.4,450.0 1152.2,446.2 1155.1,442.6 C1158.0,438.9 1160.9,435.2 1164.0,431.7 C1167.0,428.2 1170.2,424.8 1173.6,421.6 C1177.1,418.4 1180.7,415.3 1184.6,412.6 C1188.6,409.9 1192.9,407.2 1197.1,405.4 C1201.4,403.6 1206.0,402.1 1210.3,401.7 C1214.6,401.4 1218.9,402.1 1222.9,403.5 C1226.8,405.0 1230.7,407.6 1234.1,410.4 C1237.4,413.3 1240.6,416.9 1243.2,420.5 C1245.8,424.1 1248.0,428.1 1249.8,432.2 C1251.7,436.3 1253.1,440.6 1254.3,445.0 C1255.6,449.4 1256.4,454.0 1257.1,458.6 C1257.9,463.3 1258.3,468.1 1258.7,472.9 C1259.1,477.7 1259.2,482.6 1259.4,487.5 C1259.6,492.4 1259.6,497.3 1259.8,502.2 C1259.9,507.0 1260.0,511.9 1260.2,516.7 C1260.5,521.4 1260.7,526.1 1261.1,530.8 C1261.4,535.5 1261.8,540.1 1262.3,544.6 C1262.7,549.2 1263.2,553.7 1263.7,558.2 C1264.3,562.7 1264.8,567.2 1265.4,571.7 C1265.9,576.1 1266.5,580.5 1267.1,585.0 C1267.6,589.4 1268.2,593.8 1268.8,598.2 C1269.3,602.6 1269.9,607.0 1270.4,611.5 C1270.9,615.9 1271.4,620.3 1271.8,624.8 C1272.3,629.2 1272.7,633.7 1273.0,638.3 C1273.3,642.8 1273.6,647.3 1273.8,651.9 C1274.0,656.5 1274.1,661.2 1274.2,665.9 C1274.2,670.6 1274.1,675.3 1274.0,680.1 C1273.8,684.9 1273.6,689.8 1273.2,694.8 C1272.8,699.8 1272.0,707.4 1271.7,709.9 L1271.7,709.9 C1271.7,712.3 1271.9,719.5 1272.0,724.3 C1272.0,729.1 1272.0,733.9 1272.0,738.8 C1272.0,743.7 1271.9,748.5 1271.8,753.4 C1271.7,758.3 1271.6,763.2 1271.4,768.1 C1271.3,773.0 1271.1,777.9 1270.9,782.8 C1270.7,787.8 1270.4,792.7 1270.2,797.6 C1269.9,802.5 1269.6,807.4 1269.3,812.3 C1269.0,817.2 1268.7,822.1 1268.3,827.0 C1267.9,831.9 1267.6,836.8 1267.2,841.6 C1266.8,846.5 1266.4,851.3 1266.0,856.1 C1265.5,860.9 1265.1,865.7 1264.6,870.5 C1264.2,875.3 1263.7,880.0 1263.2,884.7 C1262.8,889.4 1262.3,894.1 1261.8,898.7 C1261.3,903.4 1260.8,908.0 1260.2,912.7 C1259.6,917.4 1259.0,922.1 1258.3,926.9 C1257.6,931.7 1256.9,936.5 1256.0,941.5 C1255.1,946.5 1254.2,951.5 1253.1,956.7 C1252.1,961.9 1250.9,967.4 1249.6,972.8 C1248.2,978.1 1246.7,983.8 1244.9,988.7 C1243.1,993.7 1241.1,998.7 1238.6,1002.7 C1236.2,1006.7 1233.3,1010.2 1230.1,1012.6 C1226.9,1015.0 1223.2,1016.6 1219.5,1017.1 C1215.7,1017.6 1211.5,1016.9 1207.4,1015.6 C1203.3,1014.3 1199.0,1011.8 1194.9,1009.3 C1190.7,1006.8 1186.6,1003.6 1182.6,1000.6 C1178.6,997.6 1174.8,994.4 1171.1,991.1 C1167.3,987.9 1163.7,984.6 1160.2,981.1 C1156.6,977.7 1153.2,974.2 1149.8,970.7 C1146.4,967.2 1143.1,963.6 1139.9,959.9 C1136.6,956.3 1133.4,952.6 1130.2,948.9 C1127.0,945.3 1123.8,941.5 1120.6,937.8 C1117.4,934.1 1114.3,930.4 1111.1,926.7 C1107.9,923.0 1104.7,919.3 1101.4,915.6 C1098.2,911.9 1094.9,908.3 1091.6,904.7 C1088.3,901.1 1085.0,897.5 1081.6,893.9 C1078.2,890.4 1074.8,886.9 1071.4,883.4 C1068.0,879.9 1064.5,876.4 1061.0,873.0 C1057.5,869.6 1054.0,866.2 1050.4,862.9 C1046.8,859.6 1043.2,856.3 1039.6,853.0 C1036.0,849.8 1032.3,846.5 1028.6,843.4 C1024.9,840.2 1021.1,837.1 1017.4,834.0 C1013.6,830.9 1009.8,827.9 1006.0,825.0 C1002.1,822.0 998.2,819.1 994.3,816.2 C990.4,813.3 986.5,810.5 982.5,807.8 C978.5,805.0 974.5,802.3 970.4,799.7 C966.4,797.0 962.3,794.5 958.1,792.0 C954.0,789.4 949.9,787.0 945.6,784.6 C941.4,782.2 937.2,779.9 932.9,777.7 C928.6,775.4 924.3,773.2 920.0,771.1 C915.6,769.0 911.2,767.0 906.8,765.0 C902.4,763.1 897.9,761.2 893.4,759.4 C888.9,757.6 884.3,755.8 879.7,754.2 C875.1,752.5 870.5,751.0 865.8,749.5 C861.2,748.0 856.4,746.6 851.7,745.3 C846.9,744.0 842.0,742.8 837.3,741.6 C832.6,740.3 825.6,738.3 823.3,737.7 L802.5,751.0 L782.9,733.3 L728.5,729.5 L707.0,744.0 L691.0,723.3 L622.6,722.4 L612.2,732.8 L601.8,722.4 L527.3,722.4 L516.9,732.8 L506.5,722.4 L431.5,722.4 L421.1,732.8 L410.7,722.4 L336.3,722.4 L325.9,732.8 L315.5,722.4 L271.8,722.4 Z"/>
<path d="M271.8,703.9 L321.0,703.9 L325.9,699.0 L330.8,703.9 L416.2,703.9 L421.1,699.0 L426.0,703.9 L512.0,703.9 L516.9,699.0 L521.8,703.9 L607.3,703.9 L612.2,699.0 L617.1,703.9 L694.0,703.3 L707.0,692.6 L715.9,700.2 L791.7,698.9 L802.5,690.1 L813.9,696.0 L826.5,696.6 L838.0,701.0 L850.6,695.3 L860.7,699.8 L891.0,699.8 L898.6,693.5 L911.3,697.2 C912.9,697.0 917.7,696.3 920.9,695.8 C924.2,695.3 927.4,694.8 930.6,694.2 C933.8,693.7 937.0,693.1 940.2,692.5 C943.4,691.9 946.6,691.3 949.8,690.7 C953.0,690.0 956.2,689.4 959.4,688.7 C962.6,688.0 965.8,687.3 969.0,686.5 C972.2,685.8 975.3,685.0 978.5,684.2 C981.7,683.4 984.8,682.6 988.0,681.7 C991.1,680.9 994.3,680.0 997.4,679.0 C1000.5,678.1 1003.6,677.1 1006.7,676.1 C1009.8,675.1 1012.9,674.1 1016.0,673.0 C1019.1,671.9 1022.1,670.8 1025.2,669.7 C1028.2,668.5 1031.2,667.3 1034.3,666.1 C1037.3,664.9 1040.2,663.6 1043.2,662.3 C1046.2,660.9 1049.1,659.6 1052.1,658.2 C1055.0,656.8 1057.9,655.3 1060.8,653.8 C1063.7,652.3 1066.5,650.7 1069.4,649.2 C1072.2,647.6 1075.0,645.9 1077.8,644.3 C1080.6,642.6 1083.4,640.9 1086.2,639.2 C1089.0,637.5 1091.8,635.7 1094.5,634.0 C1097.3,632.3 1100.1,630.5 1102.9,628.8 C1105.7,627.1 1108.4,625.3 1111.2,623.6 C1114.1,621.9 1116.9,620.2 1119.7,618.5 C1122.5,616.9 1125.4,615.2 1128.3,613.6 C1131.2,612.0 1134.1,610.5 1137.0,609.0 C1140.0,607.5 1142.9,606.0 1145.9,604.6 C1149.0,603.3 1152.0,601.9 1155.1,600.7 C1158.2,599.4 1161.4,598.2 1164.6,597.2 C1167.7,596.2 1170.9,595.2 1174.1,594.5 C1177.2,593.9 1180.3,593.4 1183.3,593.3 C1186.3,593.3 1189.2,593.5 1191.9,594.2 C1194.6,594.9 1197.2,596.1 1199.5,597.7 C1201.8,599.4 1204.0,601.6 1205.9,604.0 C1207.8,606.5 1209.6,609.4 1211.2,612.4 C1212.7,615.3 1214.1,618.6 1215.4,621.9 C1216.6,625.1 1217.7,628.5 1218.6,631.8 C1219.5,635.1 1220.3,638.4 1221.0,641.8 C1221.7,645.1 1222.2,648.3 1222.7,651.6 C1223.2,654.9 1223.6,658.2 1223.9,661.5 C1224.2,664.7 1224.4,668.0 1224.7,671.2 C1224.9,674.5 1225.1,677.7 1225.2,681.0 C1225.4,684.2 1225.5,687.4 1225.7,690.6 C1225.9,693.8 1226.0,697.0 1226.2,700.2 C1226.4,703.4 1226.8,708.3 1226.9,709.9 L1226.9,709.9 C1226.9,711.6 1226.7,716.6 1226.6,720.0 C1226.5,723.4 1226.4,726.7 1226.3,730.2 C1226.2,733.6 1226.1,737.1 1226.0,740.6 C1225.8,744.1 1225.7,747.7 1225.4,751.3 C1225.2,754.8 1225.0,758.4 1224.6,762.0 C1224.2,765.6 1223.8,769.2 1223.2,772.8 C1222.6,776.4 1221.9,780.0 1221.0,783.5 C1220.2,787.1 1219.2,790.6 1218.0,794.1 C1216.8,797.5 1215.5,801.1 1213.9,804.3 C1212.3,807.6 1210.5,810.9 1208.5,813.6 C1206.5,816.3 1204.2,818.8 1201.7,820.6 C1199.2,822.4 1196.3,823.6 1193.4,824.3 C1190.5,825.1 1187.3,825.3 1184.0,825.2 C1180.8,825.2 1177.4,824.7 1174.0,824.0 C1170.6,823.3 1167.1,822.3 1163.7,821.3 C1160.2,820.2 1156.8,819.0 1153.5,817.7 C1150.1,816.5 1146.8,815.1 1143.6,813.7 C1140.3,812.3 1137.1,810.8 1133.9,809.3 C1130.8,807.7 1127.6,806.1 1124.5,804.5 C1121.4,802.8 1118.3,801.2 1115.2,799.5 C1112.2,797.7 1109.1,796.0 1106.1,794.2 C1103.1,792.5 1100.0,790.7 1097.0,788.9 C1094.0,787.1 1091.0,785.4 1088.0,783.6 C1085.0,781.8 1082.0,780.0 1079.0,778.3 C1075.9,776.5 1072.9,774.8 1069.8,773.1 C1066.8,771.4 1063.7,769.7 1060.6,768.1 C1057.6,766.4 1054.4,764.9 1051.3,763.3 C1048.2,761.8 1045.0,760.3 1041.9,758.8 C1038.7,757.3 1035.5,755.9 1032.3,754.5 C1029.1,753.1 1025.9,751.8 1022.6,750.4 C1019.4,749.1 1016.1,747.9 1012.9,746.6 C1009.6,745.4 1006.3,744.2 1003.0,743.0 C999.7,741.9 996.4,740.8 993.1,739.7 C989.7,738.6 986.4,737.6 983.0,736.6 C979.7,735.6 976.3,734.6 973.0,733.7 C969.6,732.8 966.2,731.9 962.8,731.1 C959.4,730.2 956.0,729.4 952.6,728.6 C949.2,727.9 945.8,727.2 942.3,726.5 C938.9,725.8 935.5,725.1 932.0,724.5 C928.6,723.9 925.1,723.3 921.7,722.8 C918.2,722.3 913.0,721.6 911.3,721.4 L898.6,726.1 L891.0,719.8 L860.7,719.8 L850.6,724.3 L838.0,718.6 L826.5,723.0 L813.9,723.6 L802.5,729.5 L791.7,720.7 L715.9,719.4 L707.0,727.0 L694.0,716.3 L617.1,715.7 L612.2,720.6 L607.3,715.7 L521.8,715.7 L516.9,720.6 L512.0,715.7 L426.0,715.7 L421.1,720.6 L416.2,715.7 L330.8,715.7 L325.9,720.6 L321.0,715.7 L271.8,715.7 Z"/>
</g>
</g>
<g fill="#000">
<rect x="246.8" y="11.7" width="1401.2" height="5.0"/>
<rect x="246.8" y="1403.2" width="1401.2" height="5.4"/>
<rect x="246.8" y="11.7" width="5.8" height="1396.9"/>
<rect x="1640.2" y="11.7" width="7.8" height="1396.9"/>
<rect x="441.8" y="1384.9" width="6" height="19"/>
<rect x="776.6" y="1384.9" width="6" height="19"/>
<rect x="1111.4" y="1384.9" width="6" height="19"/>
<rect x="1446.2" y="1384.9" width="6" height="19"/>
<rect x="252" y="171.6" width="19.3" height="5.6"/>
<rect x="252" y="707.1" width="19.3" height="5.6"/>
<rect x="252" y="1241.2" width="19.3" height="5.6"/>
</g>
<rect x="1701.4" y="12.00" width="58.6" height="173.80" fill="#BC3D3C"/>
<rect x="1701.4" y="185.50" width="58.6" height="173.80" fill="#CF7A49"/>
<rect x="1701.4" y="359.00" width="58.6" height="173.80" fill="#DFBB53"/>
<rect x="1701.4" y="532.50" width="58.6" height="173.80" fill="#BEBB48"/>
<rect x="1701.4" y="706.00" width="58.6" height="173.80" fill="#809C43"/>
<rect x="1701.4" y="879.50" width="58.6" height="173.80" fill="#4C7B45"/>
<rect x="1701.4" y="1053.00" width="58.6" height="173.80" fill="#416B6B"/>
<rect x="1701.4" y="1226.50" width="58.6" height="173.80" fill="#3F5A97"/>
<g stroke="#000" stroke-opacity="0.55" stroke-width="4.4">
<line x1="1701.4" y1="185.5" x2="1760.0" y2="185.5"/>
<line x1="1701.4" y1="359.0" x2="1760.0" y2="359.0"/>
<line x1="1701.4" y1="532.5" x2="1760.0" y2="532.5"/>
<line x1="1701.4" y1="706.0" x2="1760.0" y2="706.0"/>
<line x1="1701.4" y1="879.5" x2="1760.0" y2="879.5"/>
<line x1="1701.4" y1="1053.0" x2="1760.0" y2="1053.0"/>
<line x1="1701.4" y1="1226.5" x2="1760.0" y2="1226.5"/>
</g>
<text class="s" transform="translate(1788.46,209.10)"><tspan x="0.00" y="0.00" font-size="65">0.75</tspan></text>
<text class="s" transform="translate(1788.46,382.60)"><tspan x="0.00" y="0.00" font-size="65">0.50</tspan></text>
<text class="s" transform="translate(1788.46,556.10)"><tspan x="0.00" y="0.00" font-size="65">0.25</tspan></text>
<text class="s" transform="translate(1788.46,729.60)"><tspan x="0.00" y="0.00" font-size="65">0</tspan></text>
<text class="s" transform="translate(1789.59,903.10)"><tspan x="0.00" y="0.00" font-size="65">−0.25</tspan></text>
<text class="s" transform="translate(1789.59,1076.60)"><tspan x="0.00" y="0.00" font-size="65">−0.50</tspan></text>
<text class="s" transform="translate(1789.59,1250.10)"><tspan x="0.00" y="0.00" font-size="65">−0.75</tspan></text>
<text class="s" transform="translate(123.26,202.10) scale(0.9566,1)"><tspan x="0.00" y="0.00" font-size="76">10</tspan><tspan x="84.54" y="-31.20" font-size="53">5</tspan></text>
<text class="s" transform="translate(190.80,736.30)"><tspan x="0.00" y="0.00" font-size="76">0</tspan></text>
<text class="s" transform="translate(73.71,1271.90) scale(0.9850,1)"><tspan x="0.00" y="0.00" font-size="76">−</tspan><tspan x="46.88" y="0.00" font-size="76">10</tspan><tspan x="131.42" y="-31.20" font-size="53">5</tspan></text>
<text class="s" transform="translate(389.17,1491.40) scale(0.9383,1)"><tspan x="0.00" y="0.00" font-size="76">10</tspan><tspan x="84.54" y="-31.20" font-size="53">0</tspan></text>
<text class="s" transform="translate(723.94,1491.40) scale(0.9436,1)"><tspan x="0.00" y="0.00" font-size="76">10</tspan><tspan x="84.54" y="-31.20" font-size="53">2</tspan></text>
<text class="s" transform="translate(1058.79,1491.40) scale(0.9337,1)"><tspan x="0.00" y="0.00" font-size="76">10</tspan><tspan x="84.54" y="-31.20" font-size="53">4</tspan></text>
<text class="s" transform="translate(1393.55,1491.40) scale(0.9406,1)"><tspan x="0.00" y="0.00" font-size="76">10</tspan><tspan x="84.54" y="-31.20" font-size="53">6</tspan></text>
<text class="s" transform="translate(316.70,182.70) scale(0.9750,1)"><tspan x="0.00" y="0.00" font-size="157">A</tspan></text>
<text class="s" transform="translate(13.05,740.50) scale(0.9303,1)"><tspan x="0.00" y="0.00" font-size="130" font-style="italic">y</tspan></text>
<text class="s" transform="translate(920.06,1623.30) scale(1.0080,1)"><tspan x="0.00" y="0.00" font-size="129" font-style="italic">z</tspan></text>
<clipPath id="clipB"><rect x="258.1" y="1695.3" width="1505.4" height="925.9"/></clipPath>
<g clip-path="url(#clipB)" fill="none">
<path d="M439.9,1675.0 C440.1,1679.2 440.8,1694.0 441.3,1700.0 C441.8,1706.0 442.4,1707.3 442.9,1711.0 C443.4,1714.6 443.9,1718.3 444.3,1722.0 C444.8,1725.6 445.2,1729.3 445.7,1733.0 C446.1,1736.6 446.5,1740.3 446.9,1743.9 C447.3,1747.6 447.7,1751.3 448.1,1754.9 C448.5,1758.6 448.9,1762.2 449.2,1765.9 C449.6,1769.5 449.9,1773.2 450.3,1776.8 C450.6,1780.5 450.9,1784.1 451.2,1787.8 C451.6,1791.4 451.9,1795.1 452.2,1798.7 C452.5,1802.4 452.7,1806.0 453.0,1809.7 C453.3,1813.3 453.6,1817.0 453.8,1820.6 C454.1,1824.2 454.4,1827.9 454.6,1831.5 C454.9,1835.2 455.1,1838.8 455.4,1842.5 C455.6,1846.1 455.8,1849.7 456.1,1853.4 C456.3,1857.0 456.5,1860.7 456.8,1864.3 C457.0,1868.0 457.2,1871.6 457.4,1875.2 C457.6,1878.9 457.9,1882.5 458.1,1886.2 C458.3,1889.8 458.5,1893.4 458.7,1897.1 C459.0,1900.7 459.2,1904.4 459.4,1908.0 C459.6,1911.6 459.8,1915.3 460.0,1918.9 C460.3,1922.6 460.5,1926.2 460.7,1929.8 C460.9,1933.5 461.2,1937.1 461.4,1940.8 C461.6,1944.4 461.9,1948.1 462.1,1951.7 C462.3,1955.3 462.6,1959.0 462.8,1962.6 C463.1,1966.3 463.4,1969.9 463.6,1973.6 C463.9,1977.2 464.2,1980.8 464.4,1984.5 C464.7,1988.1 465.0,1991.8 465.3,1995.4 C465.6,1999.1 465.9,2002.7 466.2,2006.4 C466.5,2010.0 466.8,2013.7 467.2,2017.3 C467.5,2021.0 467.8,2024.6 468.2,2028.3 C468.6,2031.9 468.9,2035.6 469.3,2039.2 C469.7,2042.9 470.1,2046.6 470.5,2050.2 C470.9,2053.9 471.3,2057.5 471.7,2061.2 C472.2,2064.9 472.6,2068.5 473.1,2072.2 C473.6,2075.8 474.0,2079.5 474.5,2083.2 C475.0,2086.8 475.5,2090.5 476.1,2094.2 C476.6,2097.8 477.1,2101.5 477.7,2105.2 C478.3,2108.9 478.8,2112.5 479.5,2116.2 C480.1,2119.9 480.7,2123.6 481.3,2127.2 C482.0,2130.9 482.6,2134.6 483.3,2138.3 C484.0,2141.9 484.7,2145.6 485.5,2149.2 C486.3,2152.9 487.1,2156.5 488.0,2160.1 C488.8,2163.7 489.7,2167.3 490.7,2170.9 C491.7,2174.4 492.7,2177.9 493.8,2181.4 C494.9,2184.9 496.1,2188.3 497.4,2191.7 C498.6,2195.0 499.9,2198.4 501.4,2201.7 C502.8,2204.9 504.3,2208.2 505.9,2211.3 C507.5,2214.5 509.2,2217.5 511.0,2220.6 C512.9,2223.6 514.8,2226.5 516.8,2229.4 C518.9,2232.2 521.0,2235.0 523.3,2237.7 C525.6,2240.4 527.9,2243.0 530.4,2245.5 C532.9,2248.1 535.5,2250.5 538.2,2252.9 C540.8,2255.3 543.6,2257.6 546.4,2259.8 C549.3,2262.0 552.2,2264.2 555.2,2266.3 C558.2,2268.3 561.2,2270.3 564.4,2272.3 C567.5,2274.2 570.7,2276.1 573.9,2277.8 C577.1,2279.6 580.4,2281.3 583.8,2283.0 C587.1,2284.6 590.5,2286.2 593.9,2287.7 C597.3,2289.3 600.7,2290.7 604.2,2292.1 C607.7,2293.5 611.2,2294.8 614.7,2296.0 C618.2,2297.3 621.7,2298.5 625.2,2299.6 C628.8,2300.8 632.3,2301.8 635.9,2302.9 C639.4,2303.9 643.0,2304.9 646.6,2305.8 C650.2,2306.7 653.8,2307.6 657.4,2308.5 C661.0,2309.3 664.6,2310.1 668.2,2310.9 C671.9,2311.6 675.5,2312.4 679.1,2313.1 C682.8,2313.8 686.4,2314.4 690.0,2315.1 C693.7,2315.7 697.3,2316.3 701.0,2316.9 C704.6,2317.5 708.3,2318.1 711.9,2318.6 C715.6,2319.2 719.2,2319.7 722.9,2320.2 C726.5,2320.8 730.2,2321.3 733.8,2321.8 C737.5,2322.3 741.1,2322.8 744.7,2323.3 C748.4,2323.8 752.0,2324.3 755.6,2324.8 C759.2,2325.3 762.8,2325.8 766.4,2326.3 C770.0,2326.8 773.6,2327.4 777.2,2327.9 C780.8,2328.4 784.3,2329.0 787.9,2329.6 C791.4,2330.1 795.0,2330.7 798.5,2331.3 C802.0,2332.0 805.5,2332.6 809.0,2333.3 C812.5,2333.9 809.3,2333.8 819.4,2335.4 C829.6,2337.0 853.2,2340.4 870.0,2342.9 C886.8,2345.4 903.3,2347.7 920.0,2350.3 C936.7,2352.9 953.3,2355.7 970.0,2358.6 C986.7,2361.6 1005.0,2365.1 1020.0,2368.1 C1035.0,2371.2 1046.7,2373.8 1060.0,2376.9 C1073.3,2379.9 1085.0,2382.4 1100.0,2386.3 C1115.0,2390.2 1131.5,2395.1 1150.0,2400.5 C1168.5,2405.9 1192.7,2413.0 1211.0,2418.5 C1229.3,2424.0 1245.2,2428.8 1260.0,2433.7 C1274.8,2438.6 1276.7,2438.6 1300.0,2447.6 C1323.3,2456.7 1366.7,2474.4 1400.0,2487.8 C1433.3,2501.2 1466.7,2514.6 1500.0,2528.0 C1533.3,2541.4 1566.7,2554.8 1600.0,2568.2 C1633.3,2581.6 1666.7,2595.0 1700.0,2608.4 C1733.3,2621.8 1783.3,2641.9 1800.0,2648.6" stroke="#0000FF" stroke-width="12.4"/>
<line x1="440.8" y1="1675" x2="486.6" y2="2368.8" stroke="#808080" stroke-width="9.8"/>
<path d="M356.5,2294.3 L377.0,2295.7 L397.0,2297.1 L417.0,2298.5 L437.0,2300.0 L457.0,2301.5 L477.0,2303.0 L497.0,2304.6 L517.0,2306.2 L537.0,2307.8 L557.0,2309.5 L577.0,2311.3 L597.0,2313.0 L617.0,2314.9 L637.0,2316.7 L657.0,2318.7 L677.0,2320.6 L697.0,2322.7 L717.0,2324.8 L737.0,2327.0 L757.0,2329.2 L777.0,2331.5 L797.0,2333.9 L817.0,2336.4 L837.0,2339.0 L857.0,2341.7 L877.0,2344.5 L897.0,2347.4 L917.0,2350.4 L937.0,2353.6 L957.0,2357.0 L977.0,2360.5 L997.0,2364.2 L1017.0,2368.1 L1037.0,2372.3 L1057.0,2376.8 L1077.0,2381.5 L1097.0,2386.6 L1117.0,2392.2 L1137.0,2398.2 L1157.0,2404.9 L1177.0,2412.2 L1197.0,2420.5 L1200.0,2421.9 L1204.0,2423.7 L1208.0,2425.5 L1212.0,2427.5 L1216.0,2429.4 L1220.0,2431.5 L1224.0,2433.6 L1228.0,2435.8 L1232.0,2438.0 L1236.0,2440.3 L1240.0,2442.7 L1244.0,2445.2 L1248.0,2447.8 L1252.0,2450.5 L1256.0,2453.3 L1260.0,2456.3 L1264.0,2459.3 L1268.0,2462.5 L1272.0,2465.9 L1276.0,2469.5 L1280.0,2473.2 L1284.0,2477.2 L1288.0,2481.4 L1292.0,2485.9 L1296.0,2490.7 L1300.0,2495.9 L1304.0,2501.5 L1308.0,2507.7 L1312.0,2514.5 L1312.4,2515.2" stroke="#808080" stroke-width="9.8" stroke-linejoin="round"/>
<line x1="910.6" y1="2287.8" x2="1800" y2="2645.3" stroke="#808080" stroke-width="9.8"/>
</g>
<g fill="#000">
<rect x="247.7" y="1688" width="1525.8" height="7.3"/>
<rect x="247.7" y="2620.8" width="1525.8" height="10.5"/>
<rect x="247.7" y="1688" width="10.4" height="943.3"/>
<rect x="1763.3" y="1688" width="10.4" height="943.3"/>
<rect x="278.5" y="2608.5" width="10" height="13"/>
<rect x="666.6" y="2608.5" width="10" height="13"/>
<rect x="1054.7" y="2608.5" width="10" height="13"/>
<rect x="1442.8" y="2608.5" width="10" height="13"/>
<rect x="258" y="1753.2" width="13" height="10"/>
<rect x="258" y="2025.4" width="13" height="10"/>
<rect x="258" y="2297.6" width="13" height="10"/>
<rect x="258" y="2569.8" width="13" height="10"/>
</g>
<text class="s" transform="translate(181.11,1794.50)"><tspan x="0.00" y="0.00" font-size="102">8</tspan></text>
<text class="s" transform="translate(179.66,2066.70)"><tspan x="0.00" y="0.00" font-size="102">4</tspan></text>
<text class="s" transform="translate(180.66,2338.90)"><tspan x="0.00" y="0.00" font-size="102">0</tspan></text>
<text class="s" transform="translate(120.09,2611.10)"><tspan x="0.00" y="0.00" font-size="102">−4</tspan></text>
<text class="s" transform="translate(258.30,2725.40) scale(0.9585,1)"><tspan x="0.00" y="0.00" font-size="102">10</tspan><tspan x="113.46" y="-31.20" font-size="69">0</tspan></text>
<text class="s" transform="translate(646.36,2725.40) scale(0.9638,1)"><tspan x="0.00" y="0.00" font-size="102">10</tspan><tspan x="113.46" y="-31.20" font-size="69">2</tspan></text>
<text class="s" transform="translate(1034.54,2725.40) scale(0.9540,1)"><tspan x="0.00" y="0.00" font-size="102">10</tspan><tspan x="113.46" y="-31.20" font-size="69">4</tspan></text>
<text class="s" transform="translate(1422.59,2725.40) scale(0.9608,1)"><tspan x="0.00" y="0.00" font-size="102">10</tspan><tspan x="113.46" y="-31.20" font-size="69">6</tspan></text>
<text class="s" transform="translate(1636.90,1845.40) scale(0.9798,1)"><tspan x="0.00" y="0.00" font-size="163">B</tspan></text>
<text class="s" transform="translate(987.59,2857.80) scale(1.0179,1)"><tspan x="0.00" y="0.00" font-size="99" font-style="italic">z</tspan></text>
<text class="s" transform="translate(83.5,2360.86) rotate(-90)"><tspan x="0.00" y="0" font-size="101.8">ln|</tspan><tspan x="105.68" y="0" font-size="101.8" font-style="italic">F</tspan><tspan x="167.86" y="0" font-size="101.8">(0,</tspan><tspan x="286.66" y="0" font-size="101.8" font-style="italic">z</tspan><tspan x="337.56" y="0" font-size="101.8">)|</tspan></text>
<text class="s" transform="translate(408.41,2521.50) scale(1.0107,1)"><tspan x="0.00" y="0.00" font-size="93" font-style="italic">R</tspan></text>
<text class="s" transform="translate(1256.54,2200.80) scale(1.0351,1)"><tspan x="0.00" y="0.00" font-size="90" font-family="'Liberation Serif', serif">λ</tspan><tspan x="43.64" y="0.00" font-size="88" font-family="'Liberation Serif', serif">/</tspan><tspan x="70.09" y="0.00" font-size="82" font-family="'Liberation Serif', serif">2</tspan><tspan x="111.09" y="0.00" font-size="97" font-family="'Liberation Serif', serif">π</tspan></text>
<text class="s" transform="translate(1477.37,2506.50) scale(0.9572,1)"><tspan x="0.00" y="0.00" font-size="89">~</tspan><tspan x="51.97" y="0.00" font-size="89" font-style="italic">z</tspan><tspan x="110.47" y="-21.00" font-size="60">-1/2</tspan></text>
<g stroke="#000" fill="none">
<path d="M1341.4,2258 L1343.4,2318" stroke-width="8.2"/>
<path d="M1327.6,2293.6 L1343.6,2318 L1357.7,2292.4" stroke-width="9" stroke-linecap="round" stroke-linejoin="miter"/>
<path d="M498.1,2502 L500.6,2584" stroke-width="7.6"/>
<path d="M483,2558 L500.8,2585 L516.8,2557" stroke-width="8.6" stroke-linecap="round" stroke-linejoin="miter"/>
</g>
</svg></body></html>
